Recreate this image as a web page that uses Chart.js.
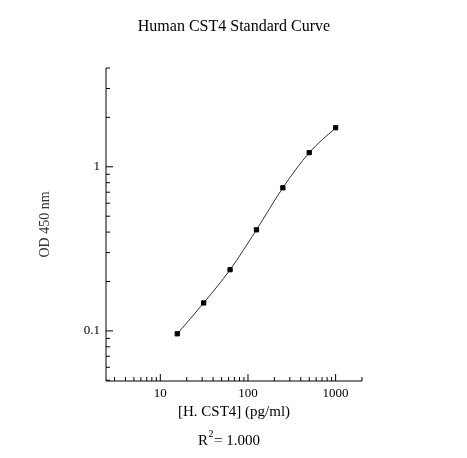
<!DOCTYPE html>
<html>
<head>
<meta charset="utf-8">
<script src="https://cdn.jsdelivr.net/npm/chart.js@4/dist/chart.umd.min.js"></script>
<style>
  html, body { margin: 0; padding: 0; background: #fff; }
  #wrap { width: 467px; height: 458px; }
</style>
</head>
<body>
<div id="wrap"><canvas id="c"></canvas></div>
<script>
const concentrations = [15.6, 31.25, 62.5, 125, 250, 500, 1000];
const odValues = [0.096, 0.148, 0.236, 0.413, 0.745, 1.22, 1.73];
const xTickLabels = [10, 100, 1000];
const yTickLabels = [0.1, 1];
const xMinorTicks = [3, 4, 5, 6, 7, 8, 9, 20, 30, 40, 50, 60, 70, 80, 90, 200, 300, 400, 500, 600, 700, 800, 900, 2000];
const yMinorTicks = [0.05, 0.06, 0.07, 0.08, 0.09, 0.2, 0.3, 0.4, 0.5, 0.6, 0.7, 0.8, 0.9, 2, 3, 4];

const serif = '"Liberation Serif", "DejaVu Serif", serif';

// axes, inside ticks and all text drawn from the chart's own scales
const axisPlugin = {
  id: 'axisPlugin',
  afterDraw(chart) {
    const { ctx, chartArea: a, scales: { x, y } } = chart;
    ctx.save();
    ctx.strokeStyle = '#000';
    ctx.lineWidth = 1;
    ctx.beginPath();
    ctx.moveTo(a.left, a.top);
    ctx.lineTo(a.left, a.bottom);
    ctx.lineTo(a.right, a.bottom);
    ctx.stroke();

    ctx.beginPath();
    xTickLabels.forEach(v => { const p = x.getPixelForValue(v); ctx.moveTo(p, a.bottom); ctx.lineTo(p, a.bottom - 7); });
    xMinorTicks.forEach(v => { const p = x.getPixelForValue(v); ctx.moveTo(p, a.bottom); ctx.lineTo(p, a.bottom - 4); });
    yTickLabels.forEach(v => { const p = y.getPixelForValue(v); ctx.moveTo(a.left, p); ctx.lineTo(a.left + 7, p); });
    yMinorTicks.forEach(v => { const p = y.getPixelForValue(v); ctx.moveTo(a.left, p); ctx.lineTo(a.left + 4, p); });
    ctx.stroke();

    ctx.fillStyle = '#000';
    ctx.font = '13px ' + serif;
    ctx.textAlign = 'center';
    ctx.textBaseline = 'top';
    xTickLabels.forEach(v => ctx.fillText(String(v), x.getPixelForValue(v), a.bottom + 6));
    ctx.textAlign = 'right';
    ctx.textBaseline = 'middle';
    yTickLabels.forEach(v => ctx.fillText(String(v), a.left - 6, y.getPixelForValue(v)));

    ctx.font = '16px ' + serif;
    ctx.textAlign = 'center';
    ctx.textBaseline = 'middle';
    ctx.fillText('Human CST4 Standard Curve', 234, 27);
    ctx.font = '15px ' + serif;
    ctx.fillText('[H. CST4] (pg/ml)', 234, 412);
    ctx.fillText('R', 203, 441);
    ctx.fillText('= 1.000', 237, 441);
    ctx.font = '10px ' + serif;
    ctx.fillText('2', 211, 434);

    ctx.translate(45, (a.top + a.bottom) / 2);
    ctx.rotate(-Math.PI / 2);
    ctx.font = '14px ' + serif;
    ctx.fillStyle = '#333';
    ctx.fillText('OD 450 nm', 0, 0);
    ctx.restore();
  }
};

new Chart(document.getElementById('c'), {
  type: 'line',
  data: {
    datasets: [{
      data: concentrations.map((c, i) => ({ x: c, y: odValues[i] })),
      borderColor: '#333',
      borderWidth: 1,
      cubicInterpolationMode: 'monotone',
      pointStyle: 'rect',
      pointRadius: 3,
      pointBackgroundColor: '#000',
      pointBorderColor: '#000'
    }]
  },
  options: {
    responsive: true,
    maintainAspectRatio: false,
    animation: false,
    layout: { padding: { left: 106, right: 105, top: 68, bottom: 77 } },
    plugins: { legend: { display: false }, tooltip: { enabled: false } },
    scales: {
      x: { type: 'logarithmic', min: 2.4, max: 2000, display: false },
      y: { type: 'logarithmic', min: 0.0495, max: 4.0, display: false }
    }
  },
  plugins: [axisPlugin]
});
</script>
</body>
</html>
